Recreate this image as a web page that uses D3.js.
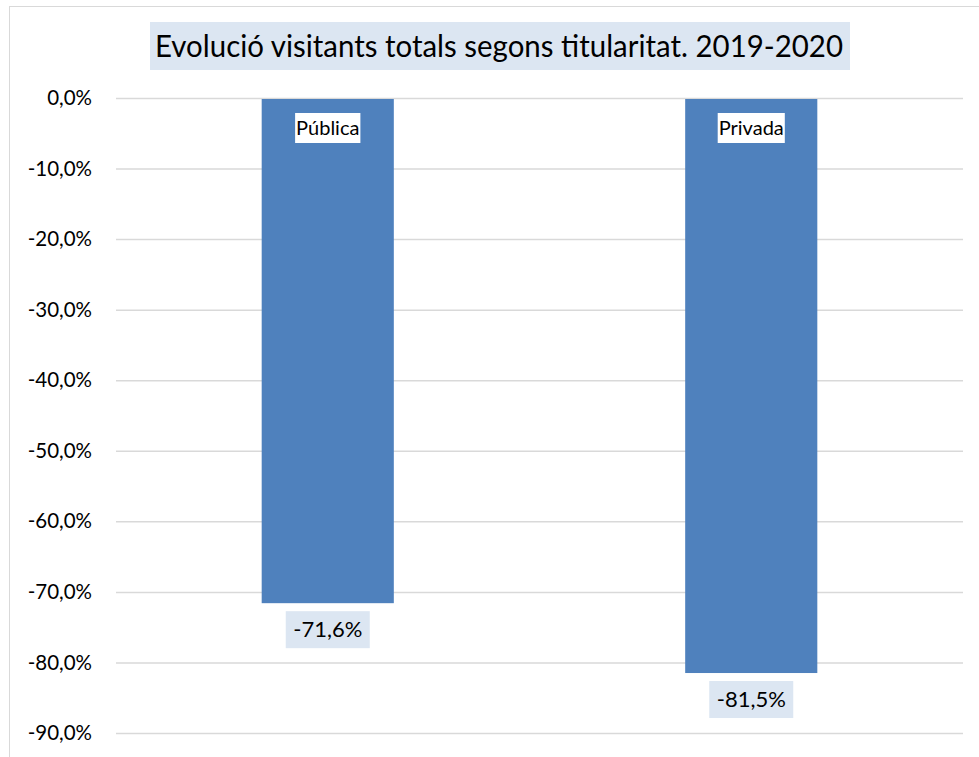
<!DOCTYPE html>
<html>
<head>
<meta charset="utf-8">
<script src="https://cdn.jsdelivr.net/npm/d3@7/dist/d3.min.js"></script>
<style>
  html, body { margin: 0; padding: 0; background: #fff; }
  svg { display: block; font-family: Lato, "Open Sans", sans-serif; }
</style>
</head>
<body>
<svg id="chart" width="979" height="757"></svg>
<script>
// Variation of total visitors by ownership, 2019-2020 (percent)
const categories = ["Pública", "Privada"];
const values = [-71.6, -81.5];
const tickValues = [0, -10, -20, -30, -40, -50, -60, -70, -80, -90];
const title = "Evolució visitants totals segons titularitat. 2019-2020";

const fmt = v => d3.format(".1f")(v).replace(".", ",").replace("−", "-") + "%";

const svg = d3.select("#chart");
const W = 979, H = 757;

// Outer chart frame (top and left edges visible)
svg.append("line").attr("x1", 9).attr("x2", W).attr("y1", 6.5).attr("y2", 6.5)
  .attr("stroke", "#d9d9d9").attr("stroke-width", 1);
svg.append("line").attr("x1", 9.5).attr("x2", 9.5).attr("y1", 6).attr("y2", H)
  .attr("stroke", "#d9d9d9").attr("stroke-width", 1);

const plot = { left: 116, right: 963, top: 98, bottom: 733 };

const y = d3.scaleLinear().domain([0, -90]).range([plot.top, plot.bottom]);
const x = d3.scaleBand().domain(categories).range([plot.left, plot.right])
  .paddingInner(0.688).paddingOuter(0.344);

// Gridlines + tick labels
const yAxis = d3.axisLeft(y).tickValues(tickValues).tickFormat(fmt)
  .tickSize(-(plot.right - plot.left)).tickPadding(24);
const gy = svg.append("g").attr("transform", `translate(${plot.left},0)`).call(yAxis);
gy.select(".domain").remove();
gy.selectAll(".tick line").attr("stroke", "#d9d9d9").attr("stroke-width", 1.5);
gy.selectAll(".tick text").attr("fill", "#000").style("font-size", "20.5px")
  .style("font-family", "Lato, sans-serif");

// Bars
svg.append("g").selectAll("rect").data(values).join("rect")
  .attr("x", (d, i) => x(categories[i]))
  .attr("width", x.bandwidth())
  .attr("y", d => y(0) + 1)
  .attr("height", d => y(d) - y(0) - 1)
  .attr("fill", "#4f81bd");

// Category labels inside bars, on white boxes
const catG = svg.append("g").selectAll("g").data(categories).join("g")
  .attr("transform", d => `translate(${x(d) + x.bandwidth() / 2},${y(0) + 30})`);
catG.append("text").attr("text-anchor", "middle").attr("dy", "0.35em")
  .style("font-size", "20px").attr("fill", "#000").text(d => d)
  .each(function () {
    const b = this.getBBox();
    d3.select(this.parentNode).insert("rect", "text")
      .attr("x", b.x - 1).attr("y", -15).attr("width", b.width + 2).attr("height", 30)
      .attr("fill", "#fff");
  });

// Value labels below bars
const valG = svg.append("g").selectAll("g").data(values).join("g")
  .attr("transform", (d, i) => `translate(${x(categories[i]) + x.bandwidth() / 2},${y(d) + 26.5})`);
valG.append("rect").attr("x", -42).attr("y", -18.5).attr("width", 84).attr("height", 37)
  .attr("fill", "#dce6f2");
valG.append("text").attr("text-anchor", "middle").attr("dy", "0.35em")
  .style("font-size", "22px").attr("fill", "#000").text(d => fmt(d));

// Title
svg.append("rect").attr("x", 150).attr("y", 22).attr("width", 700).attr("height", 48)
  .attr("fill", "#dce6f2");
const t = svg.append("text").attr("x", 499).attr("y", 46).attr("text-anchor", "middle")
  .attr("dy", "0.35em").style("font-size", "30px").attr("fill", "#000").text(title);
const tw = t.node().getComputedTextLength();
if (tw > 688) t.attr("textLength", 688).attr("lengthAdjust", "spacingAndGlyphs");
</script>
</body>
</html>
